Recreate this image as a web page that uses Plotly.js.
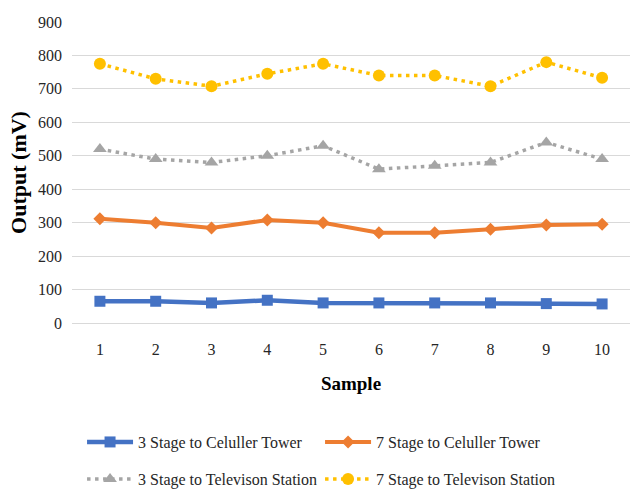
<!DOCTYPE html>
<html>
<head>
<meta charset="utf-8">
<script src="https://cdn.plot.ly/plotly-3.0.1.min.js"></script>
<style>
  html, body { margin: 0; padding: 0; background: #ffffff; }
  #chart { width: 630px; height: 490px; }
</style>
</head>
<body>
<div id="chart"></div>
<script>
// Samples along the x axis
const samples = ['1', '2', '3', '4', '5', '6', '7', '8', '9', '10'];

// Output voltage (mV) per configuration
const stage3Cell = [65, 65, 60, 68, 60, 60, 60, 60, 58, 57];
const stage7Cell = [312, 300, 284, 308, 300, 270, 270, 280, 293, 295];
const stage3TV   = [520, 490, 480, 500, 530, 460, 470, 480, 540, 490];
const stage7TV   = [775, 730, 708, 745, 775, 740, 740, 708, 780, 733];

const seriesNames = [
  '3 Stage to Celuller Tower',
  '7 Stage to Celuller Tower',
  '3 Stage to Televison Station',
  '7 Stage to Televison Station'
];

const serif = '"Liberation Serif", "Times New Roman", serif';

const traces = [
  {
    x: samples, y: stage3Cell, name: seriesNames[0], type: 'scatter', mode: 'lines+markers',
    legend: 'legend',
    line: { color: '#4472C4', width: 4.5 },
    marker: { symbol: 'square', size: 11, color: '#4472C4' }
  },
  {
    x: samples, y: stage7Cell, name: seriesNames[1], type: 'scatter', mode: 'lines+markers',
    legend: 'legend',
    line: { color: '#ED7D31', width: 4 },
    marker: { symbol: 'diamond', size: 10, color: '#ED7D31' }
  },
  {
    x: samples, y: stage3TV, name: seriesNames[2], type: 'scatter', mode: 'lines+markers',
    legend: 'legend2',
    line: { color: '#A5A5A5', width: 3.5, dash: '3.5px,4.5px' },
    marker: { symbol: 'triangle-up', size: 12, color: '#A5A5A5' }
  },
  {
    x: samples, y: stage7TV, name: seriesNames[3], type: 'scatter', mode: 'lines+markers',
    legend: 'legend2',
    line: { color: '#FFC000', width: 3.5, dash: '3.5px,4.5px' },
    marker: { symbol: 'circle', size: 12, color: '#FFC000' }
  }
];

// Two single-row legends stacked below the plot
const legendBase = {
  orientation: 'h',
  xanchor: 'left',
  yanchor: 'top',
  entrywidth: 177,
  entrywidthmode: 'pixels',
  itemwidth: 46,
  font: { family: serif, size: 16, color: '#262626' },
  bgcolor: 'rgba(0,0,0,0)'
};

const layout = {
  width: 630,
  height: 490,
  margin: { l: 72, r: 0, t: 22, b: 167, autoexpand: false },
  paper_bgcolor: '#ffffff',
  plot_bgcolor: '#ffffff',
  font: { family: serif, size: 16, color: '#262626' },
  showlegend: true,
  xaxis: {
    type: 'category',
    range: [-0.5, 9.5],
    showgrid: false,
    showline: false,
    zeroline: false,
    ticks: '',
    ticklabelstandoff: 15,
    tickfont: { family: serif, size: 16, color: '#262626' },
    title: { text: '<b>Sample</b>', font: { family: serif, size: 19, color: '#000000' }, standoff: 19 },
    automargin: false,
    fixedrange: true
  },
  yaxis: {
    range: [0, 900],
    dtick: 100,
    showgrid: true,
    gridcolor: '#D9D9D9',
    gridwidth: 1,
    zeroline: true,
    zerolinecolor: '#D9D9D9',
    zerolinewidth: 1,
    showline: false,
    ticks: '',
    ticklabelstandoff: 9,
    tickfont: { family: serif, size: 16, color: '#262626' },
    title: { text: '<b>Output (mV)</b>', font: { family: serif, size: 22, color: '#000000' }, standoff: 5 },
    automargin: false,
    fixedrange: true
  },
  legend: Object.assign({}, legendBase, { x: 0.018, y: -0.339 }),
  legend2: Object.assign({}, legendBase, { x: 0.018, y: -0.462 })
};

Plotly.newPlot('chart', traces, layout, { displayModeBar: false, staticPlot: true });
</script>
</body>
</html>
